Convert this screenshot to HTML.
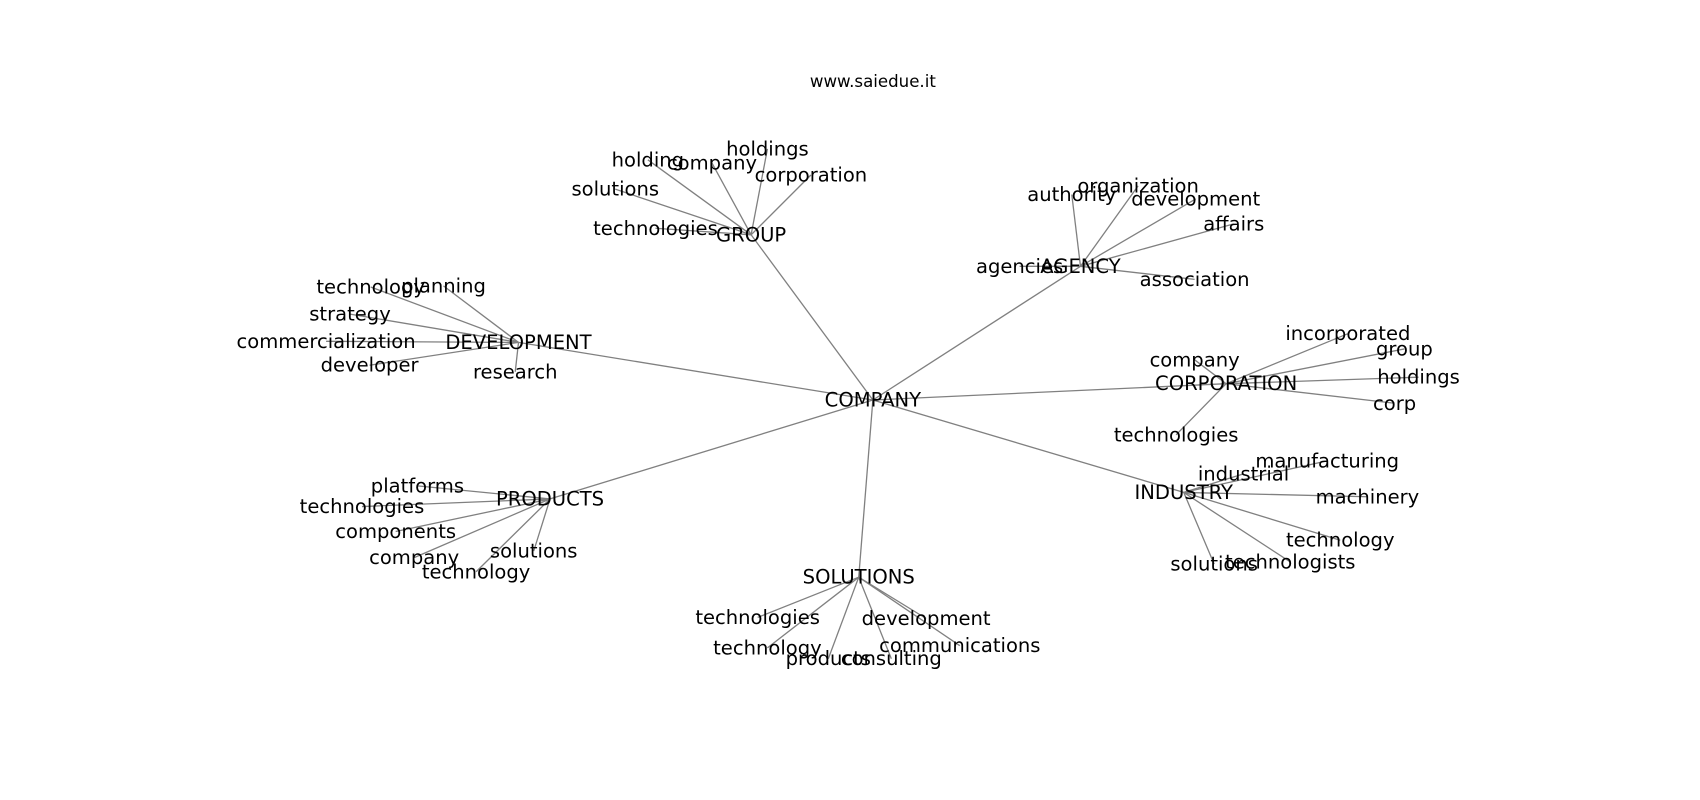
<!DOCTYPE html>
<html><head><meta charset="utf-8"><style>
html,body{margin:0;padding:0;background:#fff;width:1700px;height:800px;overflow:hidden}
text{font-family:"DejaVu Sans","Liberation Sans",sans-serif;font-size:18px;fill:#000;text-anchor:middle;dominant-baseline:central}
line{stroke:#808080;stroke-width:1.2}
</style></head><body>
<svg width="1700" height="800" viewBox="0 0 1700 800" xmlns="http://www.w3.org/2000/svg">
<g transform="scale(1.087)">
<g>
<line x1="803" y1="368" x2="691" y2="216"/><line x1="803" y1="368" x2="994" y2="245"/>
<line x1="803" y1="368" x2="477" y2="315"/><line x1="803" y1="368" x2="1128" y2="353"/>
<line x1="803" y1="368" x2="506" y2="459"/><line x1="803" y1="368" x2="1089" y2="453"/>
<line x1="803" y1="368" x2="790" y2="531"/>
<line x1="691" y1="216" x2="596" y2="147"/><line x1="691" y1="216" x2="655" y2="150"/><line x1="691" y1="216" x2="706" y2="137"/><line x1="691" y1="216" x2="746" y2="161"/><line x1="691" y1="216" x2="566" y2="174"/><line x1="691" y1="216" x2="603" y2="210"/>
<line x1="994" y1="245" x2="986" y2="179"/><line x1="994" y1="245" x2="1047" y2="171"/><line x1="994" y1="245" x2="1100" y2="183"/><line x1="994" y1="245" x2="1135" y2="206"/><line x1="994" y1="245" x2="1099" y2="257"/><line x1="994" y1="245" x2="938" y2="245"/>
<line x1="477" y1="315" x2="341" y2="264"/><line x1="477" y1="315" x2="408" y2="263"/><line x1="477" y1="315" x2="322" y2="289"/><line x1="477" y1="315" x2="300" y2="314"/><line x1="477" y1="315" x2="340" y2="336"/><line x1="477" y1="315" x2="474" y2="342"/>
<line x1="1128" y1="353" x2="1099" y2="331"/><line x1="1128" y1="353" x2="1240" y2="307"/><line x1="1128" y1="353" x2="1292" y2="321"/><line x1="1128" y1="353" x2="1305" y2="347"/><line x1="1128" y1="353" x2="1283" y2="371"/><line x1="1128" y1="353" x2="1082" y2="400"/>
<line x1="506" y1="459" x2="384" y2="447"/><line x1="506" y1="459" x2="333" y2="466"/><line x1="506" y1="459" x2="364" y2="489"/><line x1="506" y1="459" x2="381" y2="513"/><line x1="506" y1="459" x2="438" y2="526"/><line x1="506" y1="459" x2="491" y2="507"/>
<line x1="1089" y1="453" x2="1144" y2="436"/><line x1="1089" y1="453" x2="1221" y2="424"/><line x1="1089" y1="453" x2="1258" y2="457"/><line x1="1089" y1="453" x2="1233" y2="497"/><line x1="1089" y1="453" x2="1187" y2="517"/><line x1="1089" y1="453" x2="1117" y2="519"/>
<line x1="790" y1="531" x2="697" y2="568"/><line x1="790" y1="531" x2="706" y2="596"/><line x1="790" y1="531" x2="762" y2="606"/><line x1="790" y1="531" x2="820" y2="606"/><line x1="790" y1="531" x2="852" y2="569"/><line x1="790" y1="531" x2="883" y2="594"/>
</g>
<text x="803" y="75" style="font-size:15.3px">www.saiedue.it</text>
<text x="803" y="368">COMPANY</text>
<text x="691" y="216">GROUP</text><text x="596" y="147">holding</text><text x="655" y="150">company</text><text x="706" y="137">holdings</text><text x="746" y="161">corporation</text><text x="566" y="174">solutions</text><text x="603" y="210">technologies</text>
<text x="994" y="245">AGENCY</text><text x="986" y="179">authority</text><text x="1047" y="171">organization</text><text x="1100" y="183">development</text><text x="1135" y="206">affairs</text><text x="1099" y="257">association</text><text x="938" y="245">agencies</text>
<text x="477" y="315">DEVELOPMENT</text><text x="341" y="264">technology</text><text x="408" y="263">planning</text><text x="322" y="289">strategy</text><text x="300" y="314">commercialization</text><text x="340" y="336">developer</text><text x="474" y="342">research</text>
<text x="1128" y="353">CORPORATION</text><text x="1099" y="331">company</text><text x="1240" y="307">incorporated</text><text x="1292" y="321">group</text><text x="1305" y="347">holdings</text><text x="1283" y="371">corp</text><text x="1082" y="400">technologies</text>
<text x="506" y="459">PRODUCTS</text><text x="384" y="447">platforms</text><text x="333" y="466">technologies</text><text x="364" y="489">components</text><text x="381" y="513">company</text><text x="438" y="526">technology</text><text x="491" y="507">solutions</text>
<text x="1089" y="453">INDUSTRY</text><text x="1144" y="436">industrial</text><text x="1221" y="424">manufacturing</text><text x="1258" y="457">machinery</text><text x="1233" y="497">technology</text><text x="1187" y="517">technologists</text><text x="1117" y="519">solutions</text>
<text x="790" y="531">SOLUTIONS</text><text x="697" y="568">technologies</text><text x="706" y="596">technology</text><text x="762" y="606">products</text><text x="820" y="606">consulting</text><text x="852" y="569">development</text><text x="883" y="594">communications</text>
</g>
</svg>
</body></html>
